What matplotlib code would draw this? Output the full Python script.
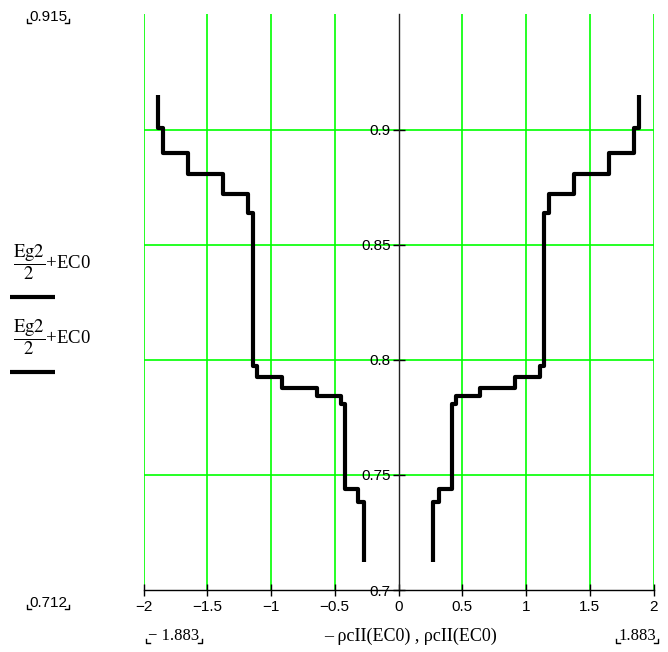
import numpy as np
import matplotlib
matplotlib.use("Agg")
from matplotlib import pyplot as plt
from matplotlib.lines import Line2D

W, H = 668, 652

# energy breakpoints (y) and pcII step levels (x) of the right half; left half is mirrored
e_edges = [0.712, 0.7384, 0.7439, 0.7807, 0.7843, 0.7880, 0.7924, 0.7974,
           0.8638, 0.8720, 0.8807, 0.8901, 0.9007, 0.915]
pc_levels = [0.274, 0.315, 0.416, 0.452, 0.642, 0.914, 1.112, 1.141,
             1.184, 1.379, 1.649, 1.845, 1.883]

x_ticks = [-2, -1.5, -1, -0.5, 0, 0.5, 1, 1.5, 2]
y_ticks = [0.7, 0.75, 0.8, 0.85, 0.9]
y_limits = (0.7, 0.9504)

tick_font = ['Liberation Sans', 'DejaVu Sans']
serif_font = ['Liberation Serif', 'DejaVu Serif']
plt.rcParams['mathtext.fontset'] = 'stix'

fig = plt.figure(figsize=(W / 100, H / 100), dpi=100)
ax = fig.add_axes([143.5 / W, 1 - 590 / H, 510 / W, 576 / H])
ax.set_xlim(-2, 2)
ax.set_ylim(*y_limits)

# grid (x = 0 is the y-axis itself)
for xv in x_ticks:
    if xv != 0:
        ax.axvline(xv, color='#00ff00', lw=1.2, zorder=1)
for yv in y_ticks[1:]:
    ax.axhline(yv, color='#00ff00', lw=1.2, zorder=1)

# axes: x-axis at bottom, y-axis through x = 0
for s in ['top', 'right']:
    ax.spines[s].set_visible(False)
ax.spines['left'].set_position(('data', 0))
ax.spines['left'].set_color('#222222')
ax.spines['left'].set_linewidth(1)
ax.spines['left'].set_zorder(2)
ax.spines['bottom'].set_color('black')
ax.spines['bottom'].set_linewidth(1)

ax.set_xticks(x_ticks)
ax.set_xticklabels(['\u2212' + f'{-v:g}' if v < 0 else f'{v:g}' for v in x_ticks],
                   family=tick_font, fontsize=11)
ax.set_yticks(y_ticks)
ax.set_yticklabels([f'{v:g}' for v in y_ticks], family=tick_font, fontsize=11)
ax.tick_params(axis='x', direction='inout', length=9, width=1, pad=3)
ax.tick_params(axis='y', direction='inout', length=9, width=1, pad=1)
ax.get_xticklabels()[4].set_x(0.05)

# stepped curves
ys = np.repeat(e_edges, 2)[1:-1]
xs = np.repeat(pc_levels, 2)
ax.plot(-xs, ys, color='black', lw=3, solid_capstyle='butt', zorder=3)
ax.plot(xs, ys, color='black', lw=3, solid_capstyle='butt', zorder=3)


def fx(px):
    return px / W


def fy(py):
    return 1 - py / H


# left legend-like labels
for y_text, y_line in [(262, 297), (337, 372)]:
    fig.text(fx(13), fy(y_text), r'$\dfrac{\mathrm{Eg2}}{2}$+EC0', family=serif_font,
             fontsize=13.5, ha='left', va='center')
    fig.add_artist(Line2D([fx(10), fx(55)], [fy(y_line), fy(y_line)], color='black',
                          lw=3, solid_capstyle='butt'))

# bottom axis label
fig.text(fx(411), fy(636), '\u2013 \u03c1cII(EC0) , \u03c1cII(EC0)', family=serif_font,
         fontsize=13, ha='center', va='center')

# limit labels with Mathcad corner marks
limit_texts = [
    fig.text(fx(48), fy(17), '0.915', family=tick_font, fontsize=11, ha='center', va='center'),
    fig.text(fx(48), fy(603), '0.712', family=tick_font, fontsize=11, ha='center', va='center'),
    fig.text(fx(174), fy(636), '\u2212 1.883', family=serif_font, fontsize=12, ha='center', va='center'),
    fig.text(fx(637), fy(636), '1.883', family=serif_font, fontsize=12, ha='center', va='center'),
]
fig.canvas.draw()
for t in limit_texts:
    bb = t.get_window_extent()
    x0, x1, yb = bb.x0 - 2, bb.x1 + 2, bb.y0 + 1
    k = 4
    fig.add_artist(Line2D([x0 / W, x0 / W, (x0 + k) / W], [(yb + k) / H, yb / H, yb / H],
                          color='black', lw=1))
    fig.add_artist(Line2D([(x1 - k) / W, x1 / W, x1 / W], [yb / H, yb / H, (yb + k) / H],
                          color='black', lw=1))

fig.savefig('out.png', dpi=100)
